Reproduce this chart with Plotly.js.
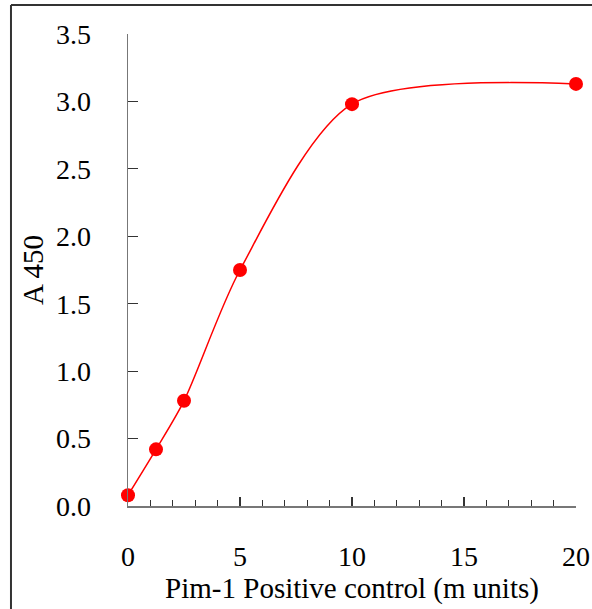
<!DOCTYPE html>
<html>
<head>
<meta charset="utf-8">
<script src="https://cdn.plot.ly/plotly-3.0.1.min.js"></script>
<style>
html,body{margin:0;padding:0;background:#fff;}
#chart{width:592px;height:609px;}
</style>
</head>
<body>
<div id="chart"></div>
<script>
// Data
const units = [0, 1.25, 2.5, 5, 10, 20];
const a450 = [0.08, 0.42, 0.78, 1.75, 2.98, 3.13];
const xTickVals = [0, 5, 10, 15, 20];
const yTickVals = [0, 0.5, 1.0, 1.5, 2.0, 2.5, 3.0, 3.5];
const xTitle = 'Pim-1 Positive control (m units)';
const yTitle = 'A 450';

const FONT = "'Liberation Serif', 'Times New Roman', serif";

const trace = {
  x: units,
  y: a450,
  type: 'scatter',
  mode: 'lines+markers',
  line: {color: '#ff0000', width: 1.5, shape: 'spline', smoothing: 0.8},
  marker: {color: '#ff0000', size: 14},
  cliponaxis: false,
  showlegend: false
};

const layout = {
  width: 592,
  height: 609,
  margin: {l: 128, r: 16, t: 34, b: 103},
  paper_bgcolor: '#ffffff',
  plot_bgcolor: '#ffffff',
  font: {family: FONT, size: 28, color: '#000'},
  xaxis: {
    range: [0, 20],
    tickvals: xTickVals,
    ticks: 'inside',
    ticklen: 9,
    tickwidth: 1.2,
    tickcolor: '#333',
    showline: true,
    linecolor: '#777',
    linewidth: 1.5,
    showgrid: false,
    zeroline: false,
    ticklabelstandoff: 25,
    tickfont: {family: FONT, size: 28},
    minor: {dtick: 1, ticks: 'inside', ticklen: 6, tickcolor: '#333', tickwidth: 1.2, showgrid: false},
    title: {text: xTitle, font: {family: FONT, size: 29}, standoff: 6},
    automargin: false
  },
  yaxis: {
    range: [0, 3.5],
    tickvals: yTickVals,
    tickformat: '.1f',
    ticks: 'inside',
    ticklen: 10,
    tickwidth: 1.2,
    tickcolor: '#333',
    showline: true,
    linecolor: '#777',
    linewidth: 1.5,
    showgrid: false,
    zeroline: false,
    ticklabelstandoff: 30,
    tickfont: {family: FONT, size: 28},
    title: {text: yTitle, font: {family: FONT, size: 29}, standoff: 4},
    automargin: false
  },
  shapes: [
    {type: 'line', xref: 'paper', yref: 'paper', x0: -0.2612, x1: -0.2612, y0: 1.0614, y1: -0.25,
     line: {color: '#333', width: 2}},
    {type: 'line', xref: 'paper', yref: 'paper', x0: -0.2612, x1: 1.05, y0: 1.0614, y1: 1.0614,
     line: {color: '#333', width: 2}}
  ]
};

Plotly.newPlot('chart', [trace], layout, {displayModeBar: false, staticPlot: true});
</script>
</body>
</html>
